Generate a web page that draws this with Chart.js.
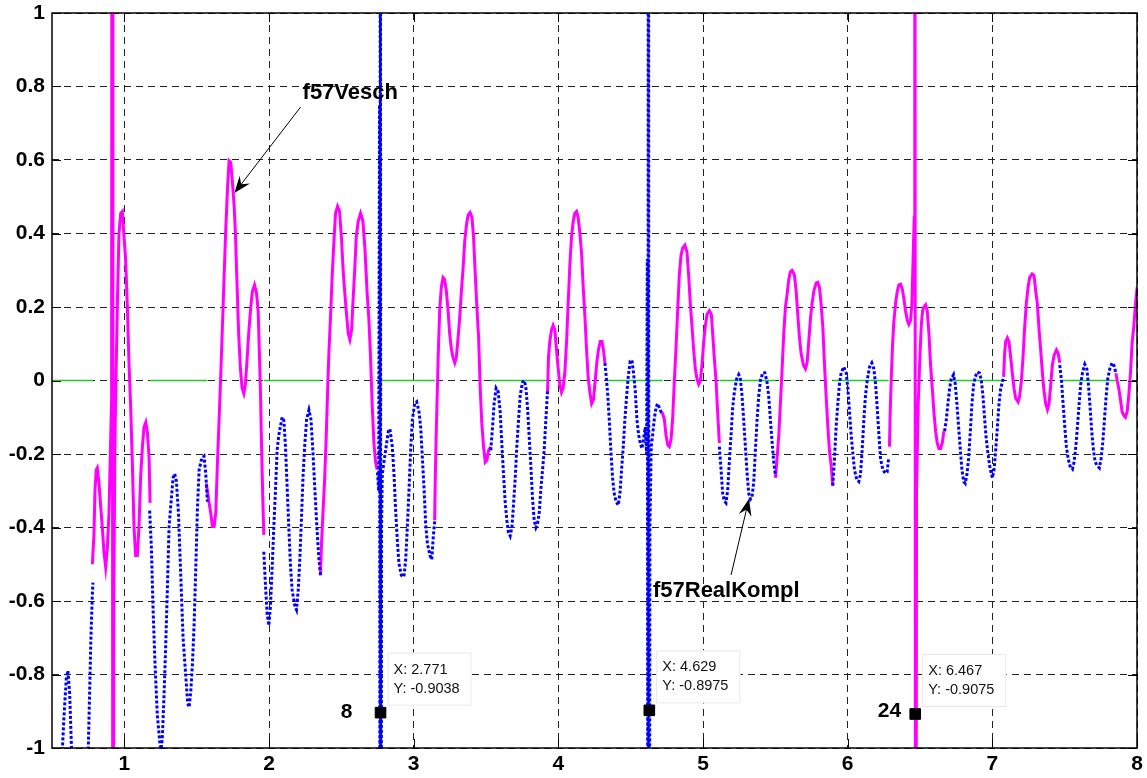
<!DOCTYPE html>
<html><head><meta charset="utf-8">
<script src="https://cdn.jsdelivr.net/npm/chart.js@4.4.0/dist/chart.umd.min.js"></script>
<style>html,body{margin:0;padding:0;background:#fff;}canvas{display:block;}</style>
</head><body>
<canvas id="c" width="1147" height="778"></canvas>
<script>
// ---- f57Vesch (magenta, solid); null = gap ----
const vx = [0.779,0.790,0.797,0.806,0.813,0.825,0.836,0.848,0.859,0.871,0.882,0.894,0.905,0.912,0.916,0.921,0.927,0.935,0.942,0.952,0.963,0.975,0.986,0.998,1.009,1.021,1.032,1.044,1.055,1.067,1.078,1.090,1.101,1.113,1.125,1.136,1.148,1.159,1.171,1.178,null,
1.567,1.586,1.597,1.609,1.621,1.632,1.644,1.655,1.667,1.678,1.690,1.701,1.713,1.724,1.736,1.747,1.759,1.768,1.780,1.791,1.803,1.814,1.826,1.837,1.849,1.860,1.872,1.884,1.900,1.913,1.925,1.934,1.941,1.948,1.957,1.964,null,
2.356,2.363,2.373,2.384,2.396,2.405,2.414,2.426,2.437,2.449,2.460,2.474,2.488,2.502,2.513,2.525,2.536,2.548,2.559,2.571,2.580,2.592,2.603,2.617,2.633,2.649,2.663,2.679,2.690,2.702,2.713,2.725,2.737,2.748,null,
3.145,3.150,3.157,3.164,3.171,3.180,3.191,3.203,3.214,3.226,3.238,3.249,3.261,3.272,3.284,3.295,3.307,3.318,3.330,3.342,3.353,3.365,3.376,3.390,3.403,3.414,3.425,3.437,3.449,3.460,3.471,3.483,3.495,3.506,3.518,3.533,null,
3.925,3.932,3.941,3.953,3.964,3.976,3.987,3.999,4.010,4.022,4.033,4.045,4.057,4.068,4.080,4.091,4.103,4.114,4.126,4.137,4.149,4.160,4.172,4.183,4.195,4.206,4.218,4.230,4.243,4.255,4.267,4.278,4.290,4.302,4.313,4.322,null,
4.709,4.721,4.733,4.744,4.756,4.767,4.779,4.790,4.802,4.813,4.825,4.836,4.848,4.859,4.875,4.889,4.901,4.912,4.924,4.935,4.947,4.958,4.970,4.982,4.993,5.005,5.016,5.028,5.044,5.058,5.067,5.078,5.090,5.101,5.113,null,
5.501,5.512,5.524,5.535,5.547,5.558,5.570,5.581,5.593,5.604,5.615,5.621,5.632,5.644,5.655,5.667,5.678,5.694,5.708,5.720,5.731,5.743,5.754,5.766,5.782,5.793,5.805,5.816,5.828,5.840,5.851,5.863,5.874,5.886,5.897,null,
6.289,6.294,6.301,6.310,6.319,6.331,6.343,6.354,6.366,6.377,6.389,6.400,6.412,6.423,6.435,6.444,6.453,6.460,6.464,6.470,6.476,6.488,6.499,6.509,6.518,6.527,6.539,6.550,6.562,6.573,6.585,6.596,6.608,6.619,6.631,6.642,6.654,6.665,null,
7.078,7.085,7.092,7.104,7.115,7.127,7.138,7.150,7.161,7.178,7.189,7.201,7.212,7.224,7.235,7.247,7.258,7.275,7.288,7.300,7.311,7.323,7.334,7.346,7.358,7.369,7.381,7.392,7.404,7.415,7.427,7.443,7.455,7.466,null,
7.854,7.863,7.874,7.886,7.897,7.909,7.920,7.932,7.943,7.955,7.967,7.978,7.990,8.001,8.010];
const vy = [-0.50,-0.42,-0.30,-0.243,-0.238,-0.28,-0.34,-0.40,-0.466,-0.508,-0.46,-0.36,-0.17,-0.05,3,-3,-0.6,-0.17,0.0,0.21,0.40,0.455,0.46,0.39,0.33,0.20,0.05,-0.074,-0.22,-0.40,-0.476,-0.476,-0.40,-0.26,-0.18,-0.127,-0.114,-0.14,-0.21,-0.333,null,
-0.28,-0.333,-0.36,-0.397,-0.397,-0.36,-0.22,-0.106,0.02,0.148,0.286,0.41,0.52,0.598,0.593,0.54,0.476,0.40,0.25,0.12,0.03,-0.02,-0.035,-0.01,0.06,0.13,0.19,0.24,0.26,0.24,0.19,0.07,-0.03,-0.17,-0.32,-0.42,null,
-0.53,-0.444,-0.36,-0.275,-0.148,-0.03,0.074,0.18,0.286,0.38,0.455,0.474,0.46,0.38,0.296,0.233,0.18,0.127,0.111,0.138,0.21,0.296,0.39,0.434,0.455,0.434,0.36,0.233,0.17,0.063,-0.063,-0.17,-0.222,-0.243,null,
-0.38,-0.254,-0.127,-0.02,0.085,0.19,0.254,0.28,0.275,0.243,0.19,0.127,0.085,0.063,0.048,0.063,0.116,0.17,0.243,0.307,0.38,0.423,0.45,0.457,0.444,0.39,0.296,0.20,0.116,-0.02,-0.116,-0.18,-0.222,-0.217,-0.19,-0.18,null,
-0.037,0.063,0.106,0.138,0.15,0.138,0.085,0.032,-0.01,-0.032,-0.021,0.021,0.106,0.21,0.317,0.39,0.434,0.455,0.46,0.444,0.40,0.35,0.254,0.18,0.085,0.01,-0.032,-0.063,-0.052,0.0,0.053,0.085,0.106,0.106,0.08,0.048,null,
-0.085,-0.09,-0.106,-0.148,-0.175,-0.18,-0.16,-0.106,0.0,0.085,0.19,0.286,0.34,0.36,0.368,0.35,0.286,0.21,0.148,0.085,0.032,0.005,-0.01,0.0,0.042,0.106,0.148,0.18,0.19,0.18,0.127,0.063,0.0,-0.085,-0.17,null,
-0.265,-0.212,-0.148,-0.063,0.032,0.127,0.20,0.233,0.275,0.296,0.30,0.296,0.286,0.243,0.18,0.116,0.074,0.042,0.032,0.05,0.106,0.17,0.21,0.243,0.265,0.267,0.254,0.21,0.148,0.042,-0.042,-0.127,-0.19,-0.233,-0.286,null,
-0.18,-0.085,0.0,0.095,0.159,0.21,0.243,0.26,0.262,0.25,0.222,0.19,0.164,0.153,0.164,0.21,0.34,0.444,3,-3,-0.3,-0.06,0.063,0.15,0.19,0.20,0.206,0.19,0.127,0.042,-0.021,-0.085,-0.138,-0.17,-0.185,-0.185,-0.17,-0.138,null,
0.01,0.074,0.106,0.116,0.106,0.063,0.021,-0.021,-0.048,-0.058,-0.042,0.0,0.063,0.148,0.21,0.254,0.28,0.29,0.286,0.243,0.21,0.138,0.085,0.021,-0.032,-0.063,-0.079,-0.063,-0.01,0.042,0.069,0.083,0.074,0.048,null,
0.02,0.0,-0.021,-0.053,-0.085,-0.095,-0.1,-0.085,-0.042,0.021,0.106,0.148,0.21,0.254,0.27];

// ---- f57RealKompl (blue, dotted); null = gap ----
const kx = [0.500,0.566,0.582,0.599,0.610,0.622,0.633,0.640,0.690,0.744,0.751,0.760,0.769,0.779,0.783,null,
1.175,1.187,1.198,1.212,1.228,1.245,1.254,1.263,1.275,1.286,1.298,1.309,1.321,1.337,1.348,1.360,1.374,1.390,1.406,1.424,1.438,1.448,1.459,1.471,1.482,1.494,1.505,1.517,1.535,1.551,1.563,1.574,null,
1.964,1.976,1.987,1.999,2.010,2.022,2.033,2.045,2.056,2.068,2.091,2.103,2.114,2.126,2.137,2.149,2.160,2.179,2.190,2.202,2.213,2.225,2.236,2.248,2.260,2.276,2.290,2.303,2.317,2.331,2.345,2.356,null,
2.750,2.758,2.764,2.767,2.770,2.773,2.778,2.783,2.806,2.825,2.836,2.852,2.864,2.875,2.887,2.898,2.915,2.933,2.945,2.956,2.968,2.979,2.991,3.007,3.021,3.037,3.049,3.060,3.072,3.083,3.095,3.113,3.125,3.136,3.146,null,
3.533,3.545,3.556,3.570,3.584,3.598,3.609,3.621,3.632,3.644,3.655,3.667,3.679,3.690,3.702,3.713,3.725,3.736,3.752,3.764,3.775,3.787,3.798,3.810,3.821,3.833,3.845,3.856,3.868,3.879,3.891,3.902,3.914,3.925,null,
4.322,4.329,4.340,4.352,4.363,4.375,4.386,4.398,4.414,4.426,4.437,4.449,4.460,4.472,4.483,4.497,4.509,4.520,4.532,4.543,4.555,4.566,4.578,4.589,4.601,4.610,4.615,4.619,4.623,4.627,4.633,4.642,4.652,4.663,4.675,4.686,4.698,4.709,4.721,null,
5.113,5.125,5.136,5.148,5.159,5.171,5.182,5.194,5.205,5.217,5.233,5.247,5.258,5.270,5.281,5.293,5.305,5.316,5.328,5.339,5.351,5.362,5.374,5.385,5.397,5.413,5.427,5.441,5.454,5.466,5.478,5.489,5.501,null,
5.897,5.909,5.920,5.932,5.943,5.955,5.973,5.990,6.001,6.013,6.024,6.036,6.047,6.063,6.077,6.089,6.100,6.112,6.123,6.135,6.151,6.167,6.181,6.193,6.204,6.216,6.227,6.243,6.260,6.273,6.283,null,
6.670,6.682,6.693,6.705,6.716,6.732,6.744,6.755,6.767,6.779,6.790,6.802,6.813,6.825,6.836,6.848,6.859,6.871,6.882,6.896,6.912,6.924,6.935,6.947,6.958,6.970,6.982,6.993,7.000,7.012,7.023,7.035,7.046,7.058,7.069,7.078,null,
7.466,7.478,7.489,7.501,7.512,7.524,7.537,7.554,7.565,7.577,7.588,7.600,7.611,7.623,7.639,7.653,7.664,7.676,7.687,7.699,7.711,7.727,7.740,7.752,7.763,7.775,7.787,7.798,7.812,7.828,7.842,7.854];
const ky = [-1.4,-1.05,-0.92,-0.81,-0.79,-0.85,-0.98,-1.05,-1.4,-1.05,-1.0,-0.85,-0.70,-0.58,-0.55,null,
-0.354,-0.455,-0.614,-0.77,-0.91,-0.984,-1.01,-0.97,-0.85,-0.72,-0.56,-0.40,-0.34,-0.265,-0.254,-0.275,-0.36,-0.53,-0.70,-0.80,-0.878,-0.889,-0.847,-0.77,-0.667,-0.51,-0.35,-0.243,-0.212,-0.206,-0.254,-0.33,null,
-0.466,-0.56,-0.635,-0.667,-0.614,-0.508,-0.40,-0.296,-0.19,-0.148,-0.10,-0.11,-0.18,-0.296,-0.40,-0.508,-0.57,-0.614,-0.624,-0.57,-0.487,-0.37,-0.254,-0.17,-0.106,-0.08,-0.106,-0.19,-0.296,-0.40,-0.487,-0.53,null,
-0.25,-0.30,0.75,-1.5,3,-3,-0.4,-0.254,-0.19,-0.138,-0.132,-0.18,-0.254,-0.35,-0.434,-0.497,-0.53,-0.534,-0.487,-0.40,-0.296,-0.19,-0.106,-0.063,-0.058,-0.085,-0.13,-0.21,-0.296,-0.39,-0.444,-0.476,-0.487,-0.423,-0.38,null,
-0.19,-0.127,-0.063,-0.021,-0.03,-0.085,-0.17,-0.254,-0.328,-0.38,-0.413,-0.423,-0.40,-0.339,-0.265,-0.18,-0.106,-0.042,-0.005,0.0,-0.016,-0.074,-0.148,-0.233,-0.317,-0.38,-0.40,-0.39,-0.36,-0.296,-0.243,-0.19,-0.106,-0.03,null,
0.048,0.02,-0.03,-0.106,-0.19,-0.265,-0.307,-0.328,-0.339,-0.307,-0.243,-0.18,-0.106,-0.042,0.01,0.053,0.055,0.02,-0.03,-0.106,-0.148,-0.17,-0.185,-0.16,-0.127,-0.2,0.33,-1.5,3,-3,-0.4,-0.18,-0.148,-0.106,-0.074,-0.063,-0.074,-0.085,-0.09,null,
-0.18,-0.243,-0.307,-0.328,-0.333,-0.296,-0.222,-0.148,-0.074,-0.03,0.005,0.016,0.005,-0.042,-0.106,-0.18,-0.254,-0.307,-0.323,-0.317,-0.275,-0.19,-0.106,-0.042,0.0,0.021,0.021,0.0,-0.042,-0.106,-0.17,-0.222,-0.26,null,
-0.286,-0.212,-0.127,-0.063,-0.01,0.021,0.037,0.021,-0.021,-0.085,-0.148,-0.2,-0.243,-0.27,-0.275,-0.254,-0.19,-0.106,-0.042,0.0,0.037,0.048,0.032,-0.01,-0.074,-0.148,-0.212,-0.243,-0.252,-0.249,-0.212,null,
-0.138,-0.106,-0.063,-0.021,0.005,0.016,-0.01,-0.063,-0.127,-0.19,-0.243,-0.275,-0.28,-0.254,-0.212,-0.138,-0.063,-0.01,0.01,0.023,0.02,0.0,-0.042,-0.106,-0.159,-0.2,-0.233,-0.254,-0.265,-0.243,-0.19,-0.127,-0.063,-0.021,-0.005,0.01,null,
0.042,0.0,-0.063,-0.127,-0.18,-0.212,-0.233,-0.241,-0.222,-0.18,-0.127,-0.063,-0.01,0.021,0.044,0.032,-0.01,-0.074,-0.138,-0.19,-0.222,-0.233,-0.238,-0.212,-0.17,-0.106,-0.042,0.005,0.032,0.048,0.04,0.02];

// ---- green zero line (visible where the blue curve is drawn) ----
const gx = [0.5,0.783,null,1.175,1.574,null,1.964,2.356,null,2.750,3.146,null,3.533,3.925,null,4.322,4.721,null,5.113,5.501,null,5.897,6.283,null,6.670,7.078,null,7.466,7.854];
const gy = [0,0,null,0,0,null,0,0,null,0,0,null,0,0,null,0,0,null,0,0,null,0,0,null,0,0,null,0,0];

// ---- data tips ----
const tipX = [2.771, 4.629, 6.467];
const tipY = [-0.9038, -0.8975, -0.9075];
const tipNums = ['8', '', '24'];

// ---- ticks ----
const xTicks = [1,2,3,4,5,6,7,8];
const xTickLabels = ['1','2','3','4','5','6','7','8'];
const yTicks = [-1,-0.8,-0.6,-0.4,-0.2,0,0.2,0.4,0.6,0.8,1];
const yTickLabels = ['-1','-0.8','-0.6','-0.4','-0.2','0','0.2','0.4','0.6','0.8','1'];

// ---- annotation placement (data units) ----
const notes = [
  {text:'f57Vesch', tx:2.232, ty:0.782, x0:2.218, y0:0.744, x1:1.761, y1:0.510},
  {text:'f57RealKompl', tx:4.654, ty:-0.573, x0:5.194, y0:-0.529, x1:5.318, y1:-0.322}
];
const numOffsets = [-28, 0, -14];
const numDy = [0, 0, -3];

const FONT = '"Liberation Sans", Arial, Helvetica, sans-serif';

function pts(xs, ys){
  const out = []; let last = xs[0];
  for (let i = 0; i < xs.length; i++){
    if (xs[i] !== null) last = xs[i];
    out.push({x:last, y:ys[i]});
  }
  return out;
}

function arrow(g, x0, y0, x1, y1){
  const ang = Math.atan2(y1-y0, x1-x0), L = 17, W = 6.5;
  const c = Math.cos(ang), s = Math.sin(ang);
  g.beginPath(); g.moveTo(x0, y0); g.lineTo(x1 - c*L*0.6, y1 - s*L*0.6); g.stroke();
  const bx = x1 - c*L, by = y1 - s*L, nx = -s, ny = c;
  g.beginPath(); g.moveTo(x1, y1);
  g.lineTo(bx + nx*W, by + ny*W);
  g.lineTo(x1 - c*L*0.65, y1 - s*L*0.65);
  g.lineTo(bx - nx*W, by - ny*W);
  g.closePath(); g.fill();
}

const overlay = {
  id:'overlay',
  beforeDraw(c){ const g=c.ctx; g.save(); g.fillStyle='#fff'; g.fillRect(0,0,c.width,c.height); g.restore(); },
  afterDatasetsDraw(c){
    const g=c.ctx, a=c.chartArea, X=c.scales.x, Y=c.scales.y;
    g.save();
    g.setLineDash([]);
    g.strokeStyle='#000'; g.lineWidth=1.5;
    g.strokeRect(a.left, a.top, a.right-a.left, a.bottom-a.top);
    g.lineWidth=1;
    g.beginPath();
    xTicks.forEach(v=>{ const px=Math.round(X.getPixelForValue(v))+0.5;
      g.moveTo(px,a.bottom); g.lineTo(px,a.bottom-9); g.moveTo(px,a.top); g.lineTo(px,a.top+9); });
    yTicks.forEach(v=>{ const py=Math.round(Y.getPixelForValue(v))+0.5;
      g.moveTo(a.left,py); g.lineTo(a.left+9,py); g.moveTo(a.right,py); g.lineTo(a.right-9,py); });
    g.stroke();
    // annotations
    g.fillStyle='#000'; g.strokeStyle='#000'; g.lineWidth=1;
    notes.forEach(n=>{
      arrow(g, X.getPixelForValue(n.x0), Y.getPixelForValue(n.y0), X.getPixelForValue(n.x1), Y.getPixelForValue(n.y1));
      g.font='bold 22px '+FONT; g.textAlign='left'; g.textBaseline='middle';
      g.fillText(n.text, X.getPixelForValue(n.tx), Y.getPixelForValue(n.ty));
    });
    // data tips
    tipX.forEach((tx,i)=>{
      const px=X.getPixelForValue(tx), py=Y.getPixelForValue(tipY[i]);
      const bx=px+7, by=py-60, bw=84, bh=53;
      g.fillStyle='#fff'; g.fillRect(bx,by,bw,bh);
      g.strokeStyle='#e8e8e8'; g.lineWidth=1; g.strokeRect(bx+0.5,by+0.5,bw-1,bh-1);
      g.fillStyle='#111'; g.font='14.5px '+FONT; g.textAlign='left'; g.textBaseline='middle';
      g.fillText('X: '+tx, bx+6, by+17);
      g.fillText('Y: '+tipY[i], bx+6, by+36);
      if (tipNums[i]){
        g.fillStyle='#000'; g.font='bold 21px '+FONT; g.textAlign='right';
        g.fillText(tipNums[i], px+numOffsets[i], py+numDy[i]);
      }
    });
    g.restore();
  }
};

new Chart(document.getElementById('c').getContext('2d'), {
  type:'line',
  data:{ datasets:[
    {label:'tips', data:pts(tipX,tipY), showLine:false, pointStyle:'rect', pointRadius:7.5,
     pointBackgroundColor:'#000', pointBorderColor:'#000', pointBorderWidth:1, order:0, clip:false},
    {label:'f57RealKompl', data:pts(kx,ky), borderColor:'#0000ff', borderWidth:3, borderDash:[3,2],
     pointRadius:0, fill:false, tension:0, spanGaps:false, clip:0, order:1},
    {label:'f57Vesch', data:pts(vx,vy), borderColor:'#ff00ff', borderWidth:3,
     pointRadius:0, fill:false, tension:0, spanGaps:false, clip:0, order:2},
    {label:'zero', data:pts(gx,gy), borderColor:'#22cc22', borderWidth:1.5,
     pointRadius:0, fill:false, spanGaps:false, clip:0, order:3}
  ]},
  options:{
    responsive:false, animation:false, devicePixelRatio:1,
    layout:{padding:{top:13, right:10, left:0, bottom:0}},
    plugins:{legend:{display:false}, tooltip:{enabled:false}},
    scales:{
      x:{type:'linear', min:0.5, max:8,
        afterBuildTicks:s=>{ s.ticks = xTicks.map(v=>({value:v})); },
        afterFit:s=>{ s.height = 30; s.paddingLeft = 0; s.paddingRight = 0; },
        ticks:{callback:(v,i)=>xTickLabels[i], font:{family:FONT, size:21, weight:'bold'}, color:'#000', padding:4, maxRotation:0, autoSkip:false},
        grid:{color:'#222', lineWidth:1, drawTicks:false},
        border:{display:false, dash:[7,5]}
      },
      y:{type:'linear', min:-1, max:1,
        afterBuildTicks:s=>{ s.ticks = yTicks.map(v=>({value:v})); },
        afterFit:s=>{ s.width = 52; s.paddingTop = 0; s.paddingBottom = 0; },
        ticks:{callback:(v,i)=>yTickLabels[i], font:{family:FONT, size:21, weight:'bold'}, color:'#000', padding:7, autoSkip:false},
        grid:{color:'#222', lineWidth:1, drawTicks:false},
        border:{display:false, dash:[7,5]}
      }
    }
  },
  plugins:[overlay]
});
</script>
</body></html>
